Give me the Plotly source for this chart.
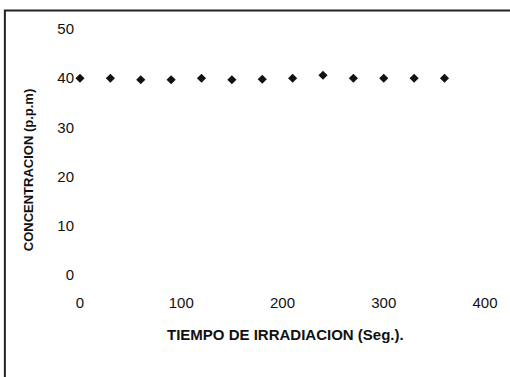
import plotly.graph_objects as go

tiempo = [0, 30, 60, 90, 120, 150, 180, 210, 240, 270, 300, 330, 360]
concentracion = [40.0, 40.0, 39.7, 39.7, 40.0, 39.7, 39.8, 40.0, 40.6, 40.0, 40.0, 40.0, 40.0]
x_ticks = [0, 100, 200, 300, 400]
y_ticks = [0, 10, 20, 30, 40, 50]

font_family = "Liberation Sans, Arial, sans-serif"

fig = go.Figure()
fig.add_trace(go.Scatter(
    x=tiempo, y=concentracion, mode="markers",
    marker=dict(symbol="diamond", size=7, color="#111111"),
    cliponaxis=False, showlegend=False,
))

fig.update_layout(
    width=510, height=377,
    margin=dict(l=80, r=23, t=29, b=102),
    paper_bgcolor="white", plot_bgcolor="white",
    font=dict(family=font_family, color="#111111", size=15),
    xaxis=dict(
        range=[0, 400], tickvals=x_ticks, showgrid=False, zeroline=False,
        showline=False, ticks="", ticklabelstandoff=17,
        tickfont=dict(size=15),
    ),
    yaxis=dict(
        range=[0, 50], tickvals=y_ticks, showgrid=False, zeroline=False,
        showline=False, ticks="", ticklabelstandoff=5,
        tickfont=dict(size=15),
    ),
    annotations=[
        dict(text="<b>TIEMPO DE IRRADIACION (Seg.).</b>", xref="paper", yref="paper",
             x=(287 - 80) / 407, y=-(334 - 275) / 246, xanchor="center", yanchor="middle",
             showarrow=False, font=dict(size=15)),
        dict(text="<b>CONCENTRACION (p.p.m)</b>", xref="paper", yref="paper",
             x=(28 - 80) / 407, y=(275 - 170) / 246, xanchor="center", yanchor="middle",
             textangle=-90, showarrow=False, font=dict(size=13)),
    ],
    shapes=[dict(
        type="rect", xref="paper", yref="paper",
        x0=-75.5 / 407, x1=1.2, y0=-0.5, y1=1 + 18.5 / 246,
        line=dict(color="#222222", width=2), fillcolor="rgba(0,0,0,0)",
    )],
)

fig.write_html("out.html")
